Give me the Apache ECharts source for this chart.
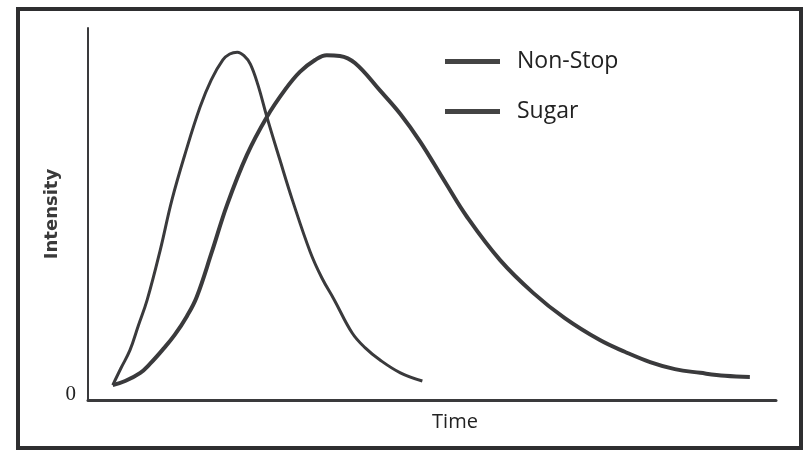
<!DOCTYPE html>
<html>
<head>
<meta charset="utf-8">
<script src="https://cdn.jsdelivr.net/npm/echarts@6/dist/echarts.min.js"></script>
<style>
  html, body { margin: 0; padding: 0; background: #fff; }
  #chart { width: 806px; height: 452px; }
</style>
</head>
<body>
<div id="chart"></div>
<script>
// arbitrary time / intensity units
const nonStopTime = [3.6, 4.8, 6.1, 7.3, 8.6, 10.5, 12.2, 14.2, 16.3, 17.9, 19.6, 20.6, 21.7, 22.7, 23.6, 24.7, 26.0, 27.9, 29.7, 32.3, 34.0, 35.8, 38.4, 40.3, 42.4, 45.4, 48.6];
const nonStopIntensity = [4.0, 8.6, 13.4, 19.9, 26.9, 40.3, 53.8, 66.7, 78.8, 86.0, 91.4, 93.0, 93.5, 92.5, 90.3, 84.7, 76.1, 64.5, 53.8, 39.8, 32.8, 26.9, 18.0, 14.0, 10.8, 7.3, 5.1];

const sugarTime = [3.6, 5.4, 7.6, 9.0, 10.8, 12.6, 14.4, 15.8, 18.0, 20.2, 23.1, 26.0, 28.6, 30.8, 33.0, 34.7, 36.6, 38.8, 42.4, 45.4, 48.3, 51.9, 55.1, 59.9, 64.7, 69.3, 74.4, 78.1, 81.7, 85.3, 89.0, 92.6, 96.2];
const sugarIntensity = [4.0, 5.1, 7.3, 9.7, 13.4, 17.5, 22.6, 27.7, 39.8, 52.4, 65.9, 76.1, 83.3, 88.2, 91.4, 92.7, 92.5, 90.6, 83.3, 76.9, 69.4, 58.6, 49.2, 37.6, 28.8, 22.0, 16.1, 12.9, 10.2, 8.3, 7.3, 6.5, 6.2];

const seriesNames = ["Non-Stop", "Sugar"];

const zip = (xs, ys) => xs.map((x, i) => [x, ys[i]]);

const chart = echarts.init(document.getElementById("chart"));

const ink = "#3a3a3c";

const option = {
	animation: false,
	backgroundColor: "#fff",
	graphic: [
		{
			type: "rect",
			shape: { x: 18, y: 9, width: 783, height: 439 },
			style: { fill: "none", stroke: "#2e2e30", lineWidth: 4 },
		},
	],
	grid: { left: 88, right: 30, top: 28, bottom: 52 },
	legend: {
		data: seriesNames,
		orient: "vertical",
		left: 440,
		top: 45,
		itemGap: 27,
		itemWidth: 55,
		itemHeight: 5,
		icon: "rect",
		textStyle: { fontFamily: "Open Sans", fontSize: 23, color: "#222", padding: [0, 0, 0, 12] },
	},
	xAxis: {
		type: "value",
		min: 0,
		max: 100,
		name: "Time",
		nameLocation: "middle",
		nameGap: 12,
		nameTextStyle: { fontFamily: "Open Sans", fontSize: 20, color: "#222", padding: [0, 0, 0, 46] },
		axisLine: { lineStyle: { color: ink, width: 3 } },
		axisTick: { show: false },
		axisLabel: { show: false },
		splitLine: { show: false },
	},
	yAxis: {
		type: "value",
		min: 0,
		max: 100,
		interval: 100,
		name: "Intensity",
		nameLocation: "middle",
		nameGap: 27,
		nameMoveOverlap: false,
		nameTextStyle: { fontFamily: "DejaVu Sans", fontWeight: "bold", fontSize: 18, color: "#3a3a3a" },
		axisLine: { show: true, lineStyle: { color: ink, width: 2 } },
		axisTick: { show: false },
		axisLabel: {
			formatter: (v) => (v === 0 ? "0" : ""),
			fontFamily: "Liberation Serif",
			fontSize: 21,
			color: "#222",
			margin: 12,
			verticalAlign: "bottom",
			lineHeight: 12,
		},
		splitLine: { show: false },
	},
	series: [
		{
			name: seriesNames[0],
			type: "line",
			smooth: 0.4,
			symbol: "none",
			data: zip(nonStopTime, nonStopIntensity),
			lineStyle: { color: ink, width: 3 },
			itemStyle: { color: "#444" },
		},
		{
			name: seriesNames[1],
			type: "line",
			smooth: 0.4,
			symbol: "none",
			data: zip(sugarTime, sugarIntensity),
			lineStyle: { color: ink, width: 4 },
			itemStyle: { color: "#444" },
		},
	],
};

chart.setOption(option);
</script>
</body>
</html>
